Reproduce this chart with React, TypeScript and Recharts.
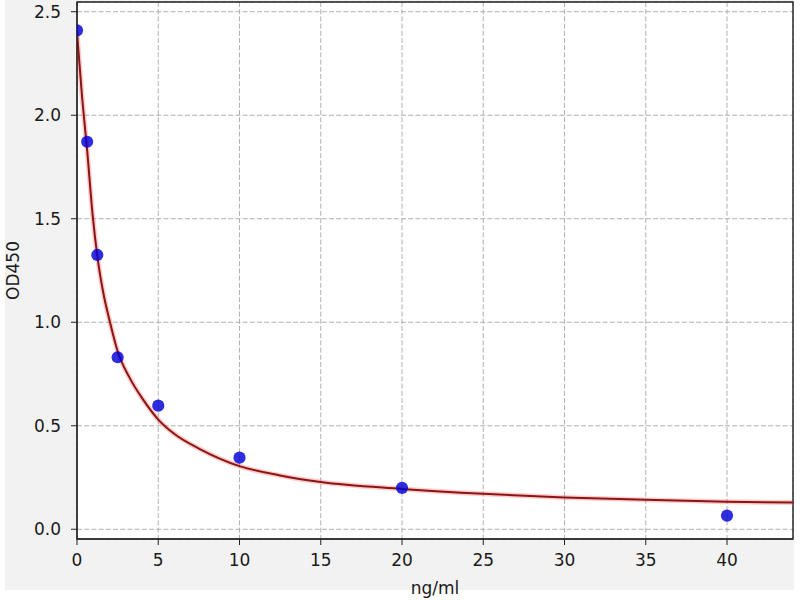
import React from 'react';
import {
  ComposedChart,
  Line,
  Scatter,
  XAxis,
  YAxis,
  CartesianGrid,
  ReferenceArea,
  Label,
} from 'recharts';

// Measured standards (concentration ng/ml vs OD450)
const pointX = [0, 0.625, 1.25, 2.5, 5, 10, 20, 40];
const pointY = [2.41, 1.872, 1.325, 0.831, 0.597, 0.346, 0.2, 0.066];

// Fitted curve
const curveX = [0, 0.3, 0.625, 0.96, 1.25, 1.6, 2.03, 2.5, 3.25, 4.08, 5, 6, 7.5, 10, 12.5, 15, 20, 25, 30, 35, 40, 44.06];
const curveY = [2.4, 2.1, 1.83, 1.52, 1.32, 1.15, 1.0, 0.86, 0.73, 0.625, 0.53, 0.46, 0.39, 0.305, 0.26, 0.228, 0.195, 0.171, 0.154, 0.142, 0.133, 0.129];

const xTicks = [0, 5, 10, 15, 20, 25, 30, 35, 40];
const yTicks = [0, 0.5, 1.0, 1.5, 2.0, 2.5];

const X_MIN = 0;
const X_MAX = 44.06;
const Y_MIN = -0.047;
const Y_MAX = 2.547;

const pointData = pointX.map((x, i) => ({ x, y: pointY[i] }));
const curveData = curveX.map((x, i) => ({ x, y: curveY[i] }));

const FONT = 'DejaVu Sans';
const tickStyle = { fill: '#1a1a1a', fontSize: 17, fontFamily: FONT };

const Dot = (props: any) => {
  const { cx, cy } = props;
  if (cx == null || cy == null) return null;
  return <circle cx={cx} cy={cy} r={6.1} fill="#0000d8" fillOpacity={0.82} />;
};

export default function App() {
  return (
    <div style={{ position: 'fixed', left: 0, top: 0, width: 800, height: 600, background: '#ffffff' }}>
      <div style={{ position: 'absolute', left: 5, top: 0, width: 789, height: 590, background: '#f2f2f2' }} />
      <div style={{ position: 'absolute', left: 0, top: 0 }}>
        <ComposedChart width={800} height={600} margin={{ top: 2, right: 7, bottom: 0, left: 0 }}>
          <CartesianGrid
            stroke="#b0b0b0"
            strokeDasharray="5 2.2"
            strokeWidth={1}
            fill="#ffffff"
            fillOpacity={1}
          />
          <XAxis
            dataKey="x"
            type="number"
            domain={[X_MIN, X_MAX]}
            ticks={xTicks}
            allowDataOverflow
            height={61}
            tickSize={6}
            tickMargin={9}
            stroke="#222"
            tick={tickStyle}
            tickFormatter={(v: number) => String(v)}
          >
            <Label
              content={(p: any) => {
                const vb = p.viewBox || {};
                return (
                  <text
                    x={vb.x + vb.width / 2}
                    y={vb.y + 55}
                    textAnchor="middle"
                    fill="#1a1a1a"
                    fontSize={17}
                    fontFamily={FONT}
                  >
                    ng/ml
                  </text>
                );
              }}
            />
          </XAxis>
          <YAxis
            dataKey="y"
            type="number"
            domain={[Y_MIN, Y_MAX]}
            ticks={yTicks}
            allowDataOverflow
            width={77}
            tickSize={6}
            tickMargin={10}
            stroke="#222"
            tick={tickStyle}
            tickFormatter={(v: number) => v.toFixed(1)}
          >
            <Label
              content={(p: any) => {
                const vb = p.viewBox || {};
                const cx = vb.x + 19;
                const cy = vb.y + vb.height / 2;
                return (
                  <text
                    x={cx}
                    y={cy}
                    transform={`rotate(-90, ${cx}, ${cy})`}
                    textAnchor="middle"
                    fill="#1a1a1a"
                    fontSize={17}
                    fontFamily={FONT}
                  >
                    OD450
                  </text>
                );
              }}
            />
          </YAxis>
          <Line
            data={curveData}
            dataKey="y"
            type="monotone"
            stroke="#ff3030"
            strokeOpacity={0.25}
            strokeWidth={5}
            dot={false}
            activeDot={false}
            isAnimationActive={false}
          />
          <Line
            data={curveData}
            dataKey="y"
            type="monotone"
            stroke="#8a1515"
            strokeWidth={2}
            dot={false}
            activeDot={false}
            isAnimationActive={false}
          />
          <Scatter data={pointData} dataKey="y" shape={Dot} isAnimationActive={false} />
          <ReferenceArea
            x1={X_MIN}
            x2={X_MAX}
            y1={Y_MIN}
            y2={Y_MAX}
            fill="none"
            fillOpacity={0}
            stroke="#222"
            strokeWidth={1.4}
            strokeOpacity={1}
          />
        </ComposedChart>
      </div>
    </div>
  );
}
